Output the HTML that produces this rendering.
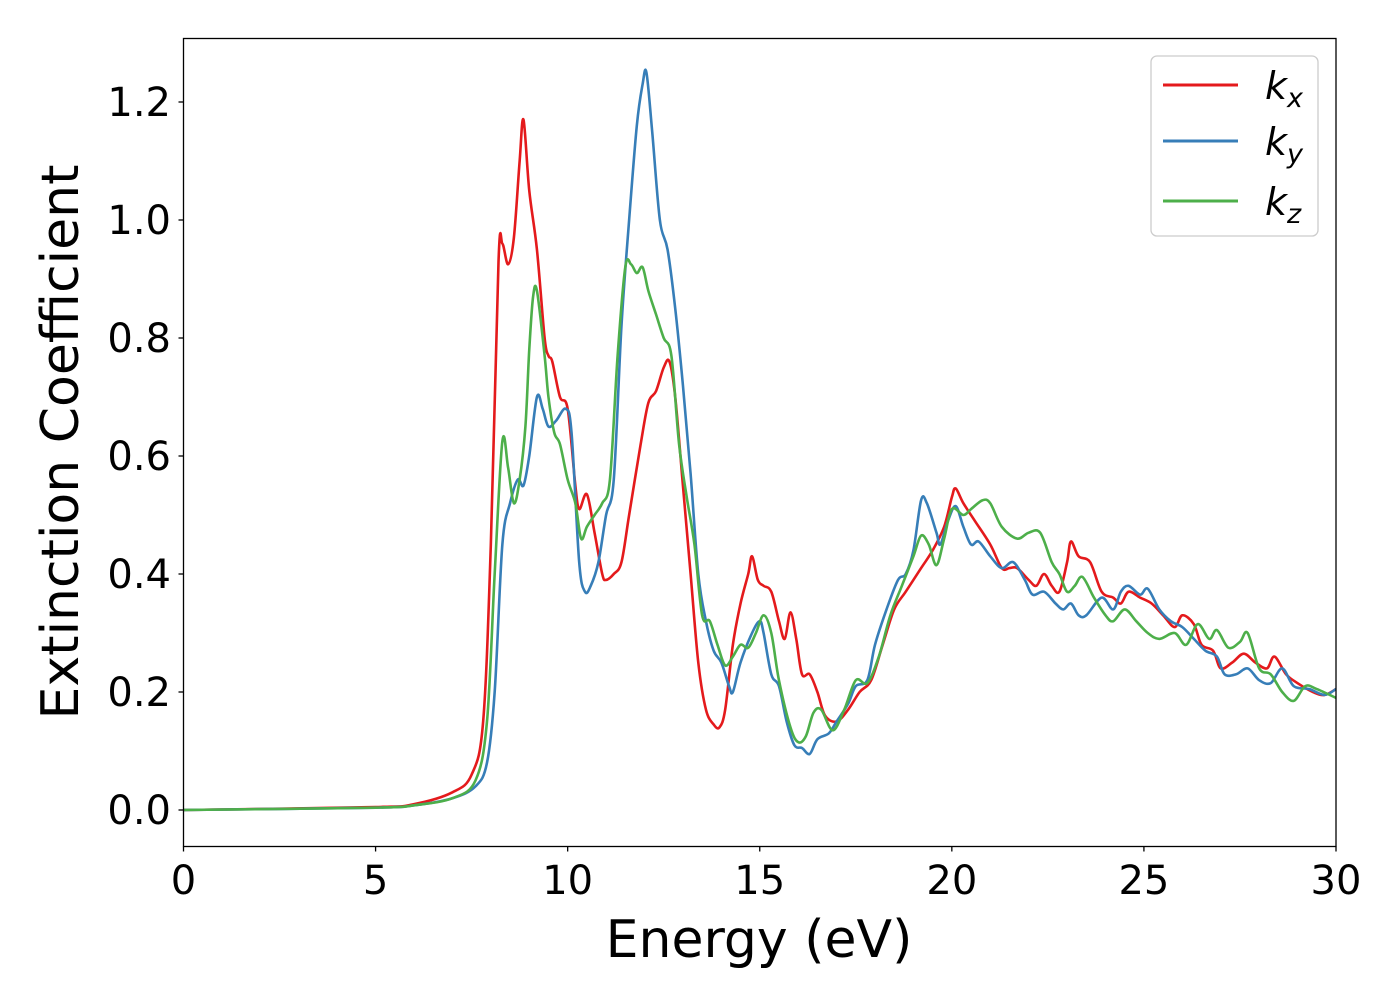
<!DOCTYPE html>
<html><head><meta charset="utf-8">
<style>
html,body{margin:0;padding:0;background:#fff;}
svg{display:block;font-family:"DejaVu Sans","Liberation Sans",sans-serif;}
</style></head>
<body>
<svg id="chart" width="1400" height="1000" viewBox="0 0 1400 1000">
<rect x="0" y="0" width="1400" height="1000" fill="#fff"/>
<g id="series"></g>
<g id="axes"></g>
<rect x="183.5" y="38.5" width="1152.5" height="808" fill="none" stroke="#000" stroke-width="1.3"/>
<text x="759" y="957" font-size="52" text-anchor="middle">Energy (eV)</text>
<text transform="translate(78,442) rotate(-90)" font-size="52" text-anchor="middle">Extinction Coefficient</text>
<g>
<rect x="1151" y="56" width="167" height="180" rx="6" fill="#fff" fill-opacity="0.8" stroke="#ccc" stroke-width="1.3"/>
<line x1="1163" y1="85" x2="1238" y2="85" stroke="#e41a1c" stroke-width="3"/>
<text x="1265" y="99" font-size="38" font-style="italic">k<tspan font-size="27" dy="8">x</tspan></text>
<line x1="1163" y1="141" x2="1238" y2="141" stroke="#377eb8" stroke-width="3"/>
<text x="1265" y="155" font-size="38" font-style="italic">k<tspan font-size="27" dy="8">y</tspan></text>
<line x1="1163" y1="201" x2="1238" y2="201" stroke="#4daf4a" stroke-width="3"/>
<text x="1265" y="215" font-size="38" font-style="italic">k<tspan font-size="27" dy="8">z</tspan></text>
</g>
</svg>
<script>
const xTicks=[0,5,10,15,20,25,30];
const yTicks=[0.0,0.2,0.4,0.6,0.8,1.0,1.2];
const yTickLabels=["0.0","0.2","0.4","0.6","0.8","1.0","1.2"];
const kxE=[0,5,6,7,7.5,7.8,8.0,8.2,8.3,8.45,8.6,8.75,8.85,9.0,9.2,9.4,9.5,9.6,9.8,10.0,10.2,10.3,10.5,10.7,10.9,11.0,11.2,11.4,11.6,11.9,12.1,12.3,12.5,12.65,12.8,13.0,13.2,13.4,13.6,13.8,13.95,14.1,14.3,14.5,14.7,14.8,14.95,15.1,15.3,15.5,15.65,15.8,15.95,16.1,16.3,16.5,16.7,17,17.3,17.6,17.9,18.2,18.5,18.8,19.2,19.5,19.8,20.0,20.1,20.3,20.6,21.0,21.3,21.5,21.7,22.0,22.2,22.4,22.6,22.8,23.0,23.1,23.3,23.6,23.9,24.2,24.4,24.6,24.9,25.2,25.5,25.8,26.0,26.3,26.5,26.8,27.0,27.3,27.6,27.9,28.2,28.4,28.7,29.0,29.4,29.7,30];
const kxV=[0,0.005,0.01,0.03,0.06,0.15,0.45,0.93,0.96,0.925,0.97,1.1,1.17,1.05,0.95,0.8,0.77,0.76,0.70,0.68,0.55,0.51,0.535,0.47,0.40,0.39,0.40,0.42,0.5,0.62,0.69,0.71,0.75,0.76,0.70,0.55,0.40,0.25,0.17,0.145,0.14,0.17,0.28,0.35,0.40,0.43,0.39,0.38,0.37,0.32,0.29,0.335,0.29,0.23,0.23,0.20,0.16,0.15,0.17,0.20,0.22,0.28,0.34,0.37,0.41,0.44,0.48,0.53,0.545,0.52,0.49,0.45,0.41,0.41,0.41,0.39,0.38,0.40,0.38,0.37,0.42,0.455,0.43,0.42,0.37,0.36,0.35,0.37,0.36,0.35,0.33,0.31,0.33,0.315,0.28,0.27,0.24,0.25,0.265,0.25,0.24,0.26,0.23,0.215,0.20,0.195,0.205];
const kyE=[0,5,6,7,7.6,7.9,8.1,8.3,8.5,8.7,8.85,9.0,9.2,9.35,9.5,9.7,9.95,10.1,10.3,10.45,10.6,10.8,11.0,11.2,11.4,11.6,11.8,11.95,12.05,12.2,12.4,12.6,12.8,13.0,13.2,13.4,13.6,13.8,14.0,14.2,14.3,14.5,14.8,15.0,15.1,15.3,15.5,15.7,15.9,16.1,16.3,16.5,16.8,17.0,17.3,17.5,17.8,18.0,18.3,18.6,18.8,19.0,19.2,19.35,19.6,19.7,19.9,20.1,20.3,20.5,20.7,21.0,21.3,21.6,21.9,22.1,22.4,22.7,22.9,23.1,23.3,23.5,23.9,24.2,24.4,24.6,24.9,25.1,25.4,25.7,26.0,26.3,26.6,26.9,27.1,27.4,27.7,28.0,28.3,28.6,28.9,29.3,29.7,30];
const kyV=[0,0.004,0.008,0.02,0.04,0.08,0.2,0.45,0.52,0.56,0.55,0.60,0.70,0.68,0.65,0.66,0.68,0.64,0.42,0.37,0.38,0.42,0.5,0.56,0.82,1.0,1.16,1.23,1.25,1.15,1.0,0.95,0.85,0.72,0.57,0.40,0.32,0.27,0.25,0.21,0.20,0.25,0.30,0.32,0.30,0.23,0.21,0.15,0.11,0.105,0.095,0.12,0.13,0.15,0.18,0.21,0.22,0.28,0.34,0.39,0.40,0.44,0.525,0.52,0.47,0.45,0.49,0.515,0.48,0.45,0.455,0.43,0.41,0.42,0.39,0.365,0.37,0.35,0.34,0.35,0.33,0.33,0.36,0.34,0.37,0.38,0.365,0.375,0.34,0.32,0.31,0.29,0.27,0.26,0.23,0.23,0.24,0.22,0.215,0.24,0.21,0.205,0.195,0.205];
const kzE=[0,5,6,7,7.6,7.9,8.1,8.3,8.45,8.6,8.75,8.9,9.0,9.1,9.2,9.4,9.5,9.65,9.8,10.0,10.2,10.35,10.5,10.7,10.9,11.1,11.3,11.5,11.65,11.8,11.95,12.1,12.3,12.5,12.7,12.9,13.1,13.3,13.5,13.7,13.9,14.1,14.3,14.5,14.7,14.9,15.1,15.3,15.5,15.8,16.0,16.2,16.4,16.6,16.9,17.2,17.5,17.8,18.1,18.4,18.7,19.0,19.2,19.4,19.6,19.8,20.0,20.3,20.5,20.8,21.0,21.3,21.7,22.0,22.3,22.6,22.8,23.0,23.2,23.4,23.7,24.0,24.2,24.5,24.8,25.1,25.4,25.8,26.1,26.4,26.7,26.9,27.2,27.5,27.7,28.0,28.3,28.6,28.9,29.2,29.5,30];
const kzV=[0,0.004,0.008,0.02,0.05,0.15,0.4,0.625,0.58,0.52,0.56,0.65,0.78,0.87,0.88,0.77,0.70,0.64,0.62,0.56,0.52,0.46,0.48,0.50,0.52,0.56,0.77,0.92,0.925,0.91,0.92,0.88,0.84,0.80,0.77,0.62,0.53,0.45,0.33,0.32,0.28,0.245,0.26,0.28,0.275,0.30,0.33,0.30,0.22,0.14,0.115,0.125,0.165,0.17,0.135,0.17,0.22,0.215,0.26,0.33,0.38,0.43,0.465,0.45,0.415,0.46,0.51,0.50,0.51,0.525,0.52,0.48,0.46,0.47,0.47,0.42,0.40,0.37,0.38,0.395,0.36,0.33,0.32,0.34,0.32,0.30,0.29,0.30,0.28,0.315,0.29,0.305,0.275,0.285,0.30,0.24,0.23,0.20,0.185,0.21,0.205,0.19];

const X0=183.5,X1=1336,XMIN=0,XMAX=30;
const Y0=810,YPER=590;
const xs=v=>X0+(v-XMIN)/(XMAX-XMIN)*(X1-X0);
const ys=v=>Y0-v*YPER;
const NS='http://www.w3.org/2000/svg';
const axes=document.getElementById('axes');
const series=document.getElementById('series');

function smoothPath(E,V){
  const p=E.map((e,i)=>[xs(e),ys(V[i])]);
  let d='M'+p[0][0].toFixed(2)+','+p[0][1].toFixed(2);
  for(let i=0;i<p.length-1;i++){
    const a=p[Math.max(0,i-1)],b=p[i],c=p[i+1],n=p[Math.min(p.length-1,i+2)];
    const c1x=b[0]+(c[0]-a[0])/6,c1y=b[1]+(c[1]-a[1])/6;
    const c2x=c[0]-(n[0]-b[0])/6,c2y=c[1]-(n[1]-b[1])/6;
    d+=' C'+c1x.toFixed(2)+','+c1y.toFixed(2)+' '+c2x.toFixed(2)+','+c2y.toFixed(2)+' '+c[0].toFixed(2)+','+c[1].toFixed(2);
  }
  return d;
}
function addLine(E,V,color,name){
  const path=document.createElementNS(NS,'path');
  path.setAttribute('d',smoothPath(E,V));
  path.setAttribute('fill','none');
  path.setAttribute('stroke',color);
  path.setAttribute('stroke-width','2.6');
  path.setAttribute('stroke-linejoin','round');
  
  
  series.appendChild(path);
}
const clip=document.createElementNS(NS,'clipPath');clip.setAttribute('id','pc');
const cr=document.createElementNS(NS,'rect');cr.setAttribute('x',X0);cr.setAttribute('y',38.5);cr.setAttribute('width',X1-X0);cr.setAttribute('height',808);
clip.appendChild(cr);document.getElementById('chart').appendChild(clip);
series.setAttribute('clip-path','url(#pc)');
addLine(kxE,kxV,'#e41a1c','series-kx');
addLine(kyE,kyV,'#377eb8','series-ky');
addLine(kzE,kzV,'#4daf4a','series-kz');

xTicks.forEach(t=>{
  const x=xs(t);
  const l=document.createElementNS(NS,'line');
  l.setAttribute('x1',x);l.setAttribute('x2',x);l.setAttribute('y1',846.5);l.setAttribute('y2',851.5);
  l.setAttribute('stroke','#000');l.setAttribute('stroke-width','1.3');
  
  
  axes.appendChild(l);
  const tx=document.createElementNS(NS,'text');
  tx.setAttribute('x',x);tx.setAttribute('y',894);tx.setAttribute('font-size','40');tx.setAttribute('text-anchor','middle');
  tx.textContent=String(t);
  
  
  axes.appendChild(tx);
});
yTicks.forEach((t,i)=>{
  const y=ys(t);
  const l=document.createElementNS(NS,'line');
  l.setAttribute('x1',178.5);l.setAttribute('x2',183.5);l.setAttribute('y1',y);l.setAttribute('y2',y);
  l.setAttribute('stroke','#000');l.setAttribute('stroke-width','1.3');
  
  
  axes.appendChild(l);
  const tx=document.createElementNS(NS,'text');
  tx.setAttribute('x',171);tx.setAttribute('y',y+14);tx.setAttribute('font-size','40');tx.setAttribute('text-anchor','end');
  tx.textContent=yTickLabels[i];
  
  
  axes.appendChild(tx);
});
</script>
</body></html>
